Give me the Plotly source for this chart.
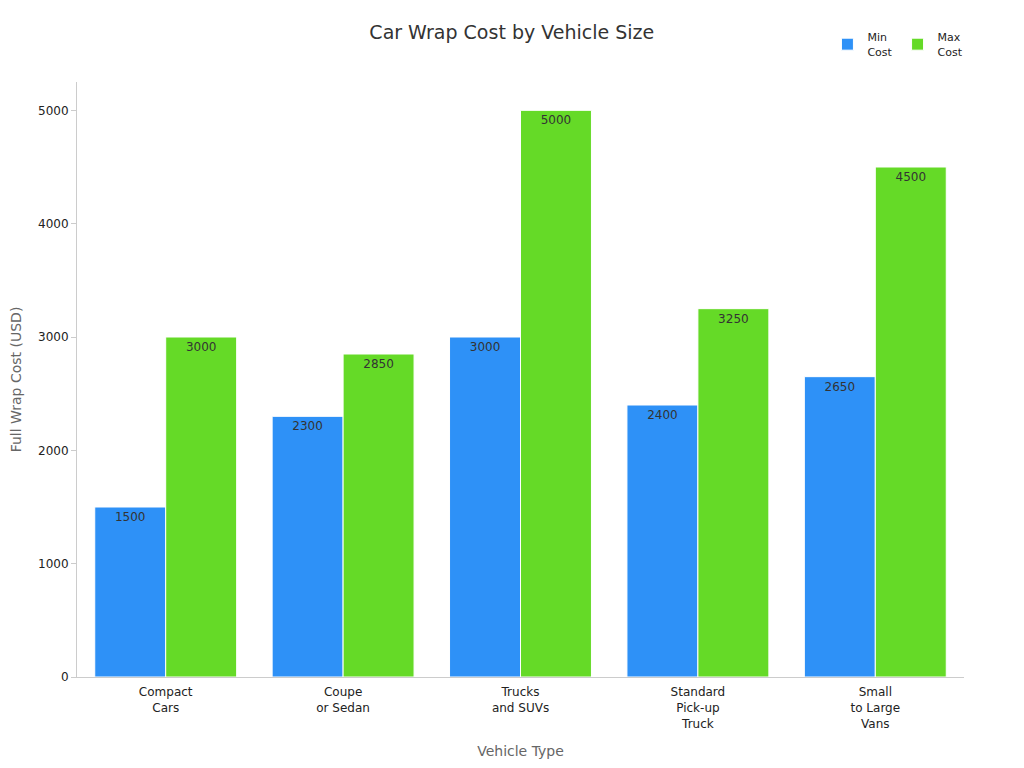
import plotly.graph_objects as go

categories = ["Compact<br>Cars", "Coupe<br>or Sedan", "Trucks<br>and SUVs", "Standard<br>Pick-up<br>Truck", "Small<br>to Large<br>Vans"]
min_cost = [1500, 2300, 3000, 2400, 2650]
max_cost = [3000, 2850, 5000, 3250, 4500]

fig = go.Figure()
fig.add_bar(name="Min<br>Cost", x=categories, y=min_cost, marker_color="#2E91F7",
            marker_line_color="white", marker_line_width=1,
            text=min_cost, textposition="inside", insidetextanchor="end",
            textfont=dict(color="#333", size=12))
fig.add_bar(name="Max<br>Cost", x=categories, y=max_cost, marker_color="#65DA27",
            marker_line_color="white", marker_line_width=1,
            text=max_cost, textposition="inside", insidetextanchor="end",
            textfont=dict(color="#333", size=12))
fig.update_layout(
    width=1024, height=768, barmode="group", bargap=0.2, bargroupgap=0,
    plot_bgcolor="white", paper_bgcolor="white",
    font=dict(family="DejaVu Sans", color="#222", size=12),
    title=dict(text="Car Wrap Cost by Vehicle Size", x=0.492, xanchor="center", y=0.977, font=dict(size=19, color="#333")),
    margin=dict(l=69, r=68, t=74, b=99),
    legend=dict(orientation="h", x=1.005, xanchor="right", yref="container", y=0.98, yanchor="top", font=dict(size=11)),
    xaxis=dict(title=dict(text="Vehicle Type", font=dict(color="#666", size=14), standoff=16), showline=True,
               linecolor="#ccc", automargin=False, ticks="outside", ticklen=4, tickcolor="white"),
    yaxis=dict(title=dict(text="Full Wrap Cost (USD)", font=dict(color="#666", size=14)), showline=True, automargin=False,
               linecolor="#ccc", showgrid=False, ticks="outside", tickcolor="#ccc", range=[0, 5250]),
)
fig.write_html("out.html")
